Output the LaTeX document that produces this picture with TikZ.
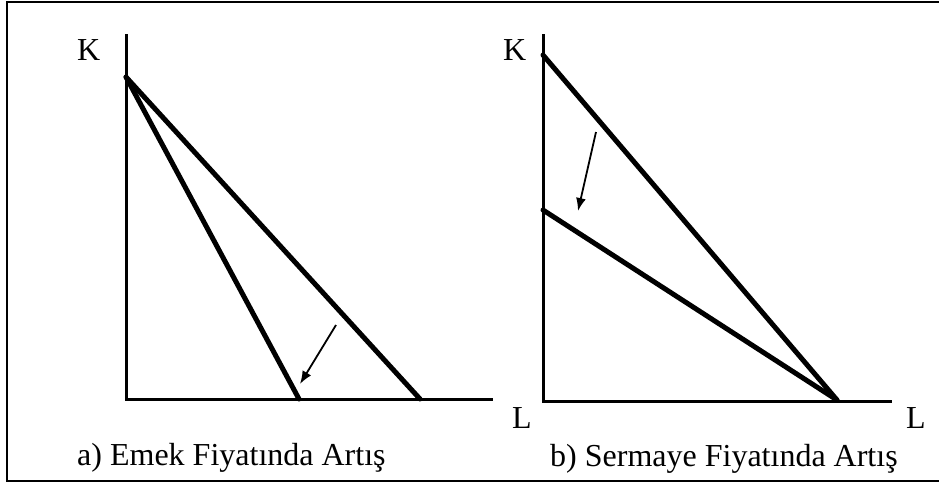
\documentclass[tikz,border=0pt]{standalone}
\usepackage{fontspec}
\setmainfont{Liberation Serif}
\usepackage{tikz}
\usetikzlibrary{arrows.meta}
\tikzset{
  eksen/.style={line width=3pt, line cap=rect},
  egri/.style={line width=5pt, line cap=round},
  ok/.style={line width=1.8pt, -{Latex[length=13pt,width=10pt]}},
  etiket/.style={anchor=base west, font=\fontsize{32}{38}\selectfont, inner sep=0pt}
}

\begin{document}
\begin{tikzpicture}[x=1pt, y=-1pt]
  \useasboundingbox (0,0) rectangle (939,483);
  % outer frame (right side is cut off)
  \draw[line width=2pt] (945,2) -- (6.5,2) -- (6.5,480.5) -- (945,480.5);
  % panel a
  \coordinate (aTop) at (126,35);
  \coordinate (aO) at (126,399);
  \coordinate (aEnd) at (491,399);
  \coordinate (aK) at (126,77);
  \coordinate (aL1) at (299,399);
  \coordinate (aL2) at (420,399);
  \draw[eksen] (aTop) -- (aO) -- (aEnd);
  \draw[egri] (aK) -- (aL2);
  \draw[egri] (aK) -- (aL1);
  \coordinate (aOkBas) at (336,325);
  \coordinate (aOkUc) at (300,384);
  \draw[ok] (aOkBas) -- (aOkUc);
  \node[etiket] (aKlab) at (77,60) {K};
  \node[etiket] (aLlab) at (512,428) {L};
  \node[etiket] (aBaslik) at (77,465) {a) Emek Fiyatında Artış};
  % panel b
  \coordinate (bTop) at (543,35);
  \coordinate (bO) at (543,401);
  \coordinate (bEnd) at (890,401);
  \coordinate (bK1) at (543,55);
  \coordinate (bK2) at (543,210);
  \coordinate (bL) at (837,400);
  \draw[eksen] (bTop) -- (bO) -- (bEnd);
  \draw[egri] (bK1) -- (bL);
  \draw[egri] (bK2) -- (bL);
  \coordinate (bOkBas) at (596,132);
  \coordinate (bOkUc) at (578,211);
  \draw[ok] (bOkBas) -- (bOkUc);
  \node[etiket] (bKlab) at (503,60) {K};
  \node[etiket] (bLlab) at (906,428) {L};
  \node[etiket] (bBaslik) at (550,466) {b) Sermaye Fiyatında Artış};
\end{tikzpicture}
\end{document}
